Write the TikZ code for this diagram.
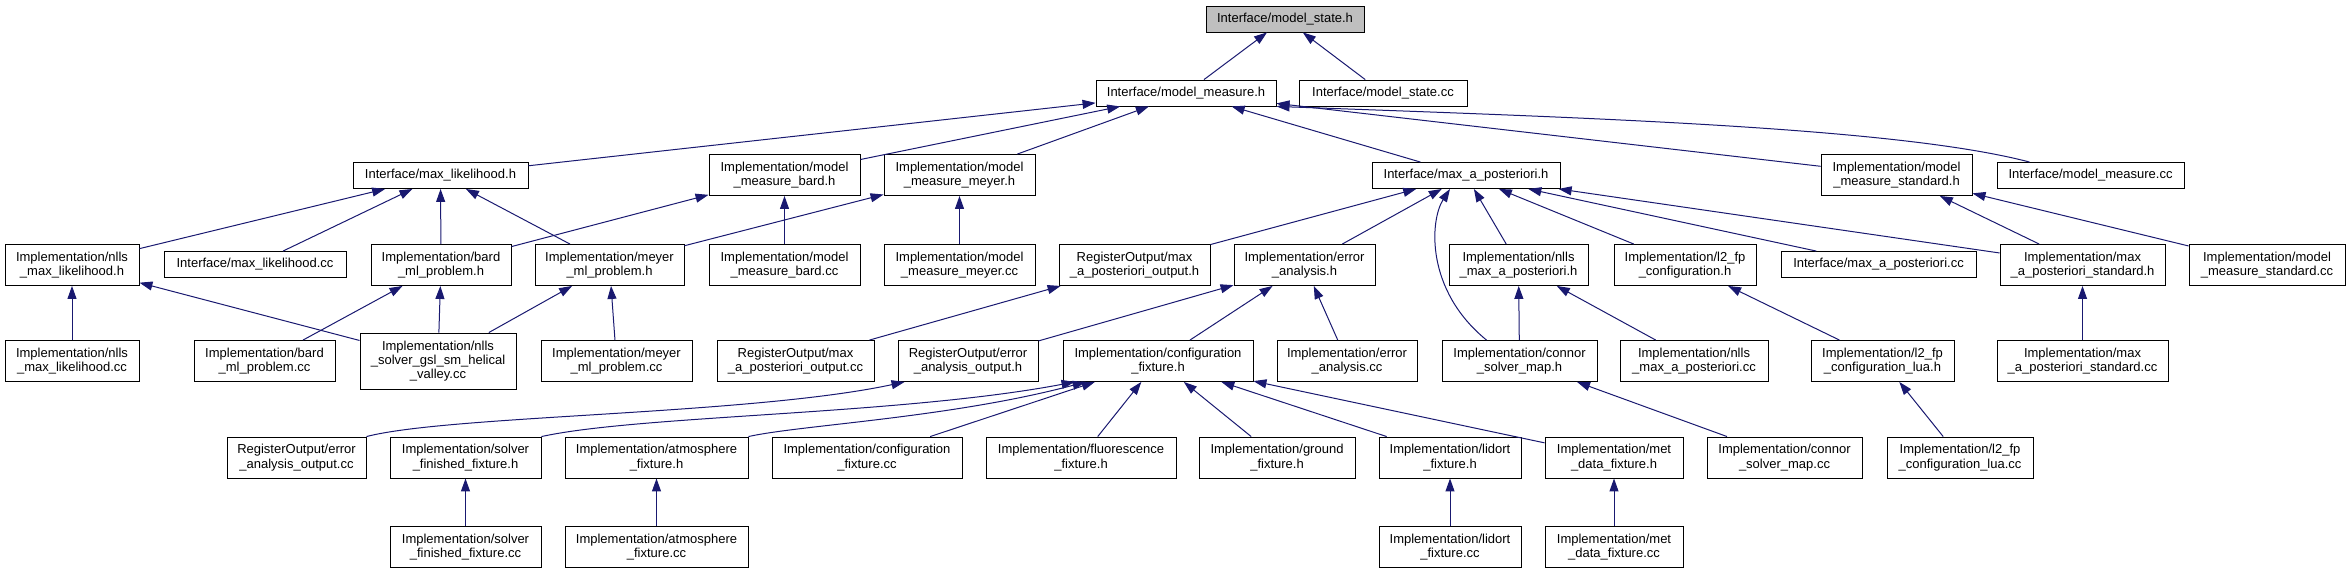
\documentclass[tikz,border=0pt]{standalone}
\usepackage{fontspec}
\setmainfont{Liberation Sans}
\definecolor{edgeblue}{RGB}{25,25,112}
\definecolor{rootgrey}{RGB}{191,191,191}
\usetikzlibrary{shapes,arrows.meta,positioning,calc}

\tikzset{
    filebox/.style={draw=black,fill=white,line width=0.9pt,align=center,
                    inner sep=1pt,font=\fontsize{13}{14.3}\selectfont},
    oneline/.style={filebox,minimum height=26pt},
    twoline/.style={filebox,minimum height=41pt},
    incl/.style={draw=edgeblue,line width=1pt,-{Triangle[length=13pt,width=9pt]}}
}

\begin{document}
\begin{tikzpicture}[x=1pt,y=-1pt]
                \useasboundingbox (0,0) rectangle (2349,573);

                \node[oneline,fill=rootgrey,minimum width=158pt] (stateh) at (1285,19) {Interface/model\_state.h};

                \node[oneline,minimum width=180pt] (measureh) at (1186,93) {Interface/model\_measure.h};
                \node[oneline,minimum width=168pt] (statecc) at (1383,93) {Interface/model\_state.cc};

                \node[oneline,minimum width=175pt] (likeh) at (440.5,175.5) {Interface/max\_likelihood.h};
                \node[twoline,minimum width=151pt] (mmbardh) at (784.5,175) {Implementation/model\\\_measure\_bard.h};
                \node[twoline,minimum width=151pt] (mmmeyerh) at (959.5,175) {Implementation/model\\\_measure\_meyer.h};
                \node[oneline,minimum width=188pt] (maph) at (1466,175.5) {Interface/max\_a\_posteriori.h};
                \node[twoline,minimum width=151pt] (mmstdh) at (1896.5,175) {Implementation/model\\\_measure\_standard.h};
                \node[oneline,minimum width=187pt] (measurecc) at (2090.5,175.5) {Interface/model\_measure.cc};

                \node[twoline,minimum width=134pt] (nllslikeh) at (72,265) {Implementation/nlls\\\_max\_likelihood.h};
                \node[oneline,minimum width=182pt] (likecc) at (255,264.5) {Interface/max\_likelihood.cc};
                \node[twoline,minimum width=140pt] (bardh) at (441,265) {Implementation/bard\\\_ml\_problem.h};
                \node[twoline,minimum width=149pt] (meyerh) at (609.5,265) {Implementation/meyer\\\_ml\_problem.h};
                \node[twoline,minimum width=151pt] (mmbardcc) at (784.5,265) {Implementation/model\\\_measure\_bard.cc};
                \node[twoline,minimum width=151pt] (mmmeyercc) at (959.5,265) {Implementation/model\\\_measure\_meyer.cc};
                \node[twoline,minimum width=151pt] (mapouth) at (1134.5,265) {RegisterOutput/max\\\_a\_posteriori\_output.h};
                \node[twoline,minimum width=141pt] (errh) at (1304.5,265) {Implementation/error\\\_analysis.h};
                \node[twoline,minimum width=139pt] (nllsmaph) at (1518.5,265) {Implementation/nlls\\\_max\_a\_posteriori.h};
                \node[twoline,minimum width=142pt] (lfph) at (1685,265) {Implementation/l2\_fp\\\_configuration.h};
                \node[oneline,minimum width=195pt] (mapcc) at (1878.5,264.5) {Interface/max\_a\_posteriori.cc};
                \node[twoline,minimum width=165pt] (mapstdh) at (2082.5,265) {Implementation/max\\\_a\_posteriori\_standard.h};
                \node[twoline,minimum width=156pt] (mmstdcc) at (2267,265) {Implementation/model\\\_measure\_standard.cc};

                \node[twoline,minimum width=134pt] (nllslikecc) at (72,361) {Implementation/nlls\\\_max\_likelihood.cc};
                \node[twoline,minimum width=141pt] (bardcc) at (264.5,361) {Implementation/bard\\\_ml\_problem.cc};
                \node[filebox,minimum width=156pt,minimum height=56pt] (helicalcc) at (438,361) {Implementation/nlls\\\_solver\_gsl\_sm\_helical\\\_valley.cc};
                \node[twoline,minimum width=151pt] (meyercc) at (616.5,361) {Implementation/meyer\\\_ml\_problem.cc};
                \node[twoline,minimum width=157pt] (mapoutcc) at (795.5,361) {RegisterOutput/max\\\_a\_posteriori\_output.cc};
                \node[twoline,minimum width=140pt] (errouth) at (968,361) {RegisterOutput/error\\\_analysis\_output.h};
                \node[twoline,minimum width=190pt] (confh) at (1158,361) {Implementation/configuration\\\_fixture.h};
                \node[twoline,minimum width=140pt] (errcc) at (1347,361) {Implementation/error\\\_analysis.cc};
                \node[twoline,minimum width=155pt] (connorh) at (1519.5,361) {Implementation/connor\\\_solver\_map.h};
                \node[twoline,minimum width=148pt] (nllsmapcc) at (1694,361) {Implementation/nlls\\\_max\_a\_posteriori.cc};
                \node[twoline,minimum width=143pt] (lfpluah) at (1882.5,361) {Implementation/l2\_fp\\\_configuration\_lua.h};
                \node[twoline,minimum width=171pt] (mapstdcc) at (2082.5,361) {Implementation/max\\\_a\_posteriori\_standard.cc};

                \node[twoline,minimum width=139pt] (erroutcc) at (296.5,457.5) {RegisterOutput/error\\\_analysis\_output.cc};
                \node[twoline,minimum width=151pt] (solverh) at (465.5,457.5) {Implementation/solver\\\_finished\_fixture.h};
                \node[twoline,minimum width=183pt] (atmh) at (656.5,457.5) {Implementation/atmosphere\\\_fixture.h};
                \node[twoline,minimum width=190pt] (confcc) at (867,457.5) {Implementation/configuration\\\_fixture.cc};
                \node[twoline,minimum width=190pt] (fluoh) at (1081,457.5) {Implementation/fluorescence\\\_fixture.h};
                \node[twoline,minimum width=156pt] (groundh) at (1277,457.5) {Implementation/ground\\\_fixture.h};
                \node[twoline,minimum width=142pt] (lidorth) at (1450,457.5) {Implementation/lidort\\\_fixture.h};
                \node[twoline,minimum width=138pt] (meth) at (1614,457.5) {Implementation/met\\\_data\_fixture.h};
                \node[twoline,minimum width=155pt] (connorcc) at (1784.5,457.5) {Implementation/connor\\\_solver\_map.cc};
                \node[twoline,minimum width=146pt] (lfpluacc) at (1960,457.5) {Implementation/l2\_fp\\\_configuration\_lua.cc};

                \node[twoline,minimum width=151pt] (solvercc) at (465.5,547) {Implementation/solver\\\_finished\_fixture.cc};
                \node[twoline,minimum width=183pt] (atmcc) at (656.5,547) {Implementation/atmosphere\\\_fixture.cc};
                \node[twoline,minimum width=142pt] (lidortcc) at (1450,547) {Implementation/lidort\\\_fixture.cc};
                \node[twoline,minimum width=138pt] (metcc) at (1614,547) {Implementation/met\\\_data\_fixture.cc};

                \draw[incl] (measureh) -- (stateh);
                \draw[incl] (statecc) -- (stateh);

                \draw[incl] (likeh) -- (measureh);
                \draw[incl] (mmbardh) -- (measureh);
                \draw[incl] (mmmeyerh) -- (measureh);
                \draw[incl] (maph) -- (measureh);
                \draw[incl] (mmstdh) -- (measureh);
                \draw[incl] ($(measurecc.north west)+(33,0)$) .. controls (1900,128) and (1600,118) .. (measureh.south east);

                \draw[incl] (nllslikeh) -- (likeh);
                \draw[incl] (likecc) -- (likeh);
                \draw[incl] (bardh) -- (likeh);
                \draw[incl] (meyerh) -- (likeh);
                \draw[incl] (bardh) -- (mmbardh);
                \draw[incl] (meyerh) -- (mmmeyerh);
                \draw[incl] (mmbardcc) -- (mmbardh);
                \draw[incl] (mmmeyercc) -- (mmmeyerh);

                \draw[incl] (mapouth) -- (maph);
                \draw[incl] (errh) -- (maph);
                \draw[incl] ($(connorh.north)+(-33,0)$) .. controls (1425,290) and (1430,220) .. ($(maph.south)+(-16,0)$);
                \draw[incl] (nllsmaph) -- (maph);
                \draw[incl] (lfph) -- (maph);
                \draw[incl] (mapcc) -- (maph);
                \draw[incl] (mapstdh) -- (maph);
                \draw[incl] (mapstdh) -- (mmstdh);
                \draw[incl] (mmstdcc) -- (mmstdh);

                \draw[incl] (nllslikecc) -- (nllslikeh);
                \draw[incl] (helicalcc) -- (nllslikeh);
                \draw[incl] (bardcc) -- (bardh);
                \draw[incl] (helicalcc) -- (bardh);
                \draw[incl] (helicalcc) -- (meyerh);
                \draw[incl] (meyercc) -- (meyerh);
                \draw[incl] (mapoutcc) -- (mapouth);
                \draw[incl] (errouth) -- (errh);
                \draw[incl] (confh) -- (errh);
                \draw[incl] (errcc) -- (errh);
                \draw[incl] (connorh) -- (nllsmaph);
                \draw[incl] (nllsmapcc) -- (nllsmaph);
                \draw[incl] (lfpluah) -- (lfph);
                \draw[incl] (mapstdcc) -- (mapstdh);

                \draw[incl] (erroutcc.north east) .. controls (450,415) and (750,415) .. ($(errouth.south west)+(7,0)$);
                \draw[incl] (solverh.north east) .. controls (640,415) and (900,415) .. ($(confh.south west)+(12,0)$);
                \draw[incl] (atmh.north east) .. controls (800,425) and (950,418) .. ($(confh.south west)+(23,0)$);
                \draw[incl] (confcc) -- (confh);
                \draw[incl] (fluoh) -- (confh);
                \draw[incl] (groundh) -- (confh);
                \draw[incl] (lidorth) -- (confh);
                \draw[incl] (meth) -- (confh);
                \draw[incl] (connorcc) -- (connorh);
                \draw[incl] (lfpluacc) -- (lfpluah);

                \draw[incl] (solvercc) -- (solverh);
                \draw[incl] (atmcc) -- (atmh);
                \draw[incl] (lidortcc) -- (lidorth);
                \draw[incl] (metcc) -- (meth);
            \end{tikzpicture}
\end{document}
